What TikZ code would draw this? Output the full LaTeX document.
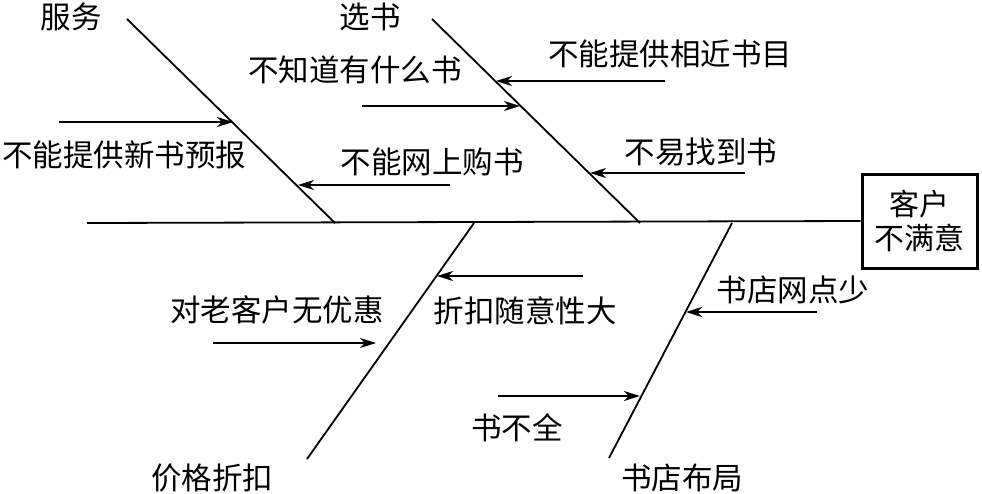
\documentclass[tikz,border=0pt]{standalone}
\usepackage{fontspec}
\setmainfont{Noto Sans CJK SC}
\usetikzlibrary{arrows.meta}
\begin{document}
\begin{tikzpicture}[x=1pt,y=-1pt,
  bone/.style={line width=1.8pt},
  cause/.style={line width=1.8pt,-{Stealth[length=16pt,width=10pt,inset=5pt]}},
  lbl/.style={inner sep=0pt,font=\fontsize{30.5}{34}\selectfont},
  effbox/.style={draw,line width=3pt,minimum width=115pt,minimum height=94pt,align=center,inner sep=0pt,font=\fontsize{30}{34}\selectfont}]
\useasboundingbox (0,0) rectangle (982,493);
% effect
\node[effbox] (eff) at (919.5,221) {客户\\不满意};
\coordinate (s0) at (87,223);
\draw[bone] (s0) -- (eff.west);
% bones
\coordinate (b1a) at (127,19);  \coordinate (b1b) at (335,223);
\coordinate (b2a) at (432,19);  \coordinate (b2b) at (640,223);
\coordinate (b3a) at (474,223); \coordinate (b3b) at (307,459);
\coordinate (b4a) at (732,223); \coordinate (b4b) at (609,458);
\draw[bone] (b1a) -- (b1b);
\draw[bone] (b2a) -- (b2b);
\draw[bone] (b3a) -- (b3b);
\draw[bone] (b4a) -- (b4b);
% bone labels
\node[lbl] (l1) at (71,17) {服务};
\node[lbl] (l2) at (370,17) {选书};
\node[lbl] (l3) at (212,478) {价格折扣};
\node[lbl] (l4) at (682,478) {书店布局};
% causes
\node[lbl] (c1) at (124,155) {不能提供新书预报};
\coordinate (c1a) at (59,122); \coordinate (c1b) at (233,122);
\draw[cause] (c1a) -- (c1b);
\node[lbl] (c2) at (432,162) {不能网上购书};
\coordinate (c2a) at (450,185); \coordinate (c2b) at (298,185);
\draw[cause] (c2a) -- (c2b);
\node[lbl] (c3) at (355,70) {不知道有什么书};
\coordinate (c3a) at (362,106); \coordinate (c3b) at (520,106);
\draw[cause] (c3a) -- (c3b);
\node[lbl] (c4) at (670,54) {不能提供相近书目};
\coordinate (c4a) at (665,81); \coordinate (c4b) at (496,81);
\draw[cause] (c4a) -- (c4b);
\node[lbl] (c5) at (701,152) {不易找到书};
\coordinate (c5a) at (745,173); \coordinate (c5b) at (590,173);
\draw[cause] (c5a) -- (c5b);
\node[lbl] (c6) at (525,311) {折扣随意性大};
\coordinate (c6a) at (583,276); \coordinate (c6b) at (437,276);
\draw[cause] (c6a) -- (c6b);
\node[lbl] (c7) at (277,310) {对老客户无优惠};
\coordinate (c7a) at (213,343); \coordinate (c7b) at (376,343);
\draw[cause] (c7a) -- (c7b);
\node[lbl] (c8) at (793,290) {书店网点少};
\coordinate (c8a) at (817,312); \coordinate (c8b) at (686,312);
\draw[cause] (c8a) -- (c8b);
\node[lbl] (c9) at (517,428) {书不全};
\coordinate (c9a) at (498,396); \coordinate (c9b) at (640,396);
\draw[cause] (c9a) -- (c9b);
\end{tikzpicture}
\end{document}
